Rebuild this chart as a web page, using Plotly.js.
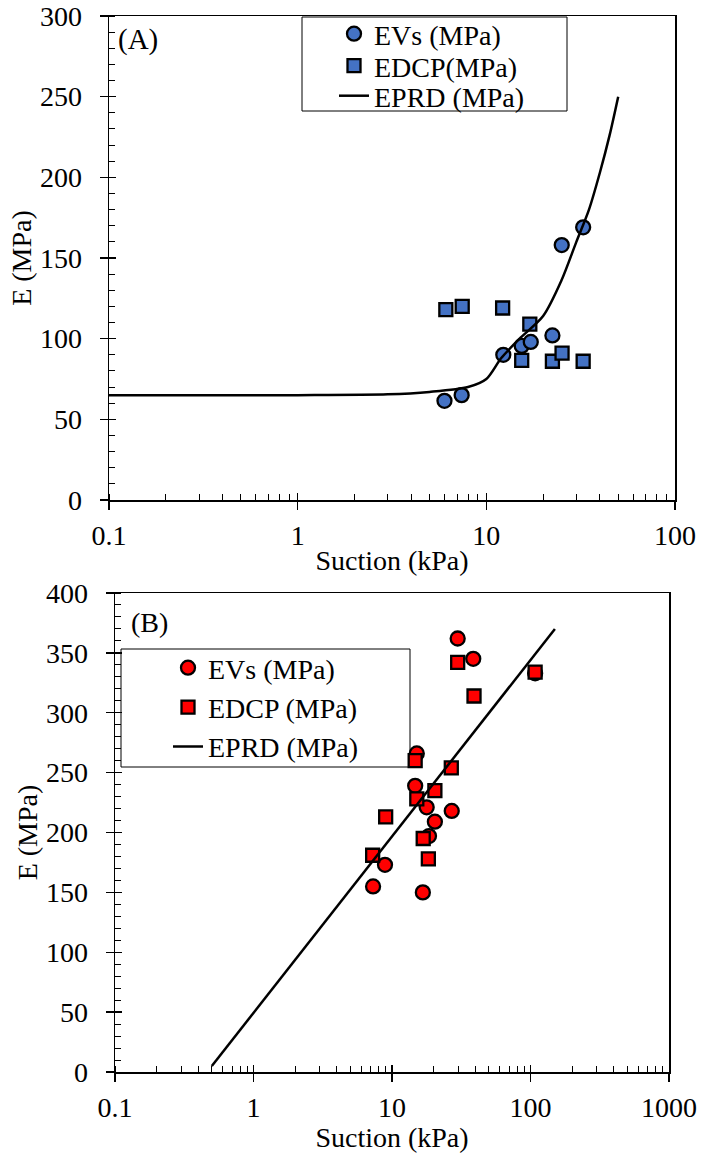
<!DOCTYPE html>
<html>
<head>
<meta charset="utf-8">
<script src="https://cdn.plot.ly/plotly-3.0.1.min.js"></script>
<style>html,body{margin:0;padding:0;background:#fff;}#chart{width:702px;height:1153px;}</style>
</head>
<body>
<div id="chart"></div>
<script>
// ---- Panel A data ----
const aEvsSuction = [6.0, 7.4, 12.3, 15.4, 17.2, 22.4, 25.1, 32.6];
const aEvsE       = [61.5, 65, 90, 95.5, 98, 102, 158, 169];
const aEdcpSuction = [6.1, 7.45, 12.2, 17.0, 15.4, 22.4, 25.2, 32.6];
const aEdcpE       = [118, 120, 119, 109, 86.5, 86, 91, 86];
const aPrdSuction = [0.1, 1, 3, 5, 8, 10, 12, 15, 20, 25, 30, 35, 40, 45, 50];
const aPrdE       = [65, 65, 65.5, 67, 70, 75, 88, 100, 114, 136, 160, 180, 203, 226, 250];
// ---- Panel B data ----
const bEvsSuction = [29.8, 38.6, 108, 15.1, 14.7, 17.8, 27.0, 20.4, 18.5, 8.9, 7.3, 16.7];
const bEvsE       = [362, 345, 333, 266, 239, 221, 218, 209, 197, 173, 155, 150];
const bEdcpSuction = [29.8, 108, 39.1, 14.7, 26.8, 20.4, 15.1, 9.0, 16.8, 7.25, 18.3];
const bEdcpE       = [342, 334, 314, 260, 254, 235, 228, 213, 195, 181, 178];
const bPrdSuction = [0.5, 150];
const bPrdE       = [5, 370];

const serif = "'Liberation Serif', 'Times New Roman', Times, serif";
const blue = '#4472C4', red = '#FF0000';
const W = 702, H = 1153;

const traces = [
  {x: aEvsSuction, y: aEvsE, name: 'EVs (MPa)', mode: 'markers', type: 'scatter', xaxis: 'x', yaxis: 'y', legend: 'legend',
   marker: {symbol: 'circle', size: 14, color: blue, line: {color: '#000', width: 2.3}}},
  {x: aEdcpSuction, y: aEdcpE, name: 'EDCP(MPa)', mode: 'markers', type: 'scatter', xaxis: 'x', yaxis: 'y', legend: 'legend3',
   marker: {symbol: 'square', size: 13, color: blue, line: {color: '#000', width: 2.3}}},
  {x: aPrdSuction, y: aPrdE, name: 'EPRD (MPa)', mode: 'lines', type: 'scatter', xaxis: 'x', yaxis: 'y', legend: 'legend4',
   line: {color: '#000', width: 2.5, shape: 'spline', smoothing: 0.8}},
  {x: bEvsSuction, y: bEvsE, name: 'EVs (MPa)', mode: 'markers', type: 'scatter', xaxis: 'x2', yaxis: 'y2', legend: 'legend2',
   marker: {symbol: 'circle', size: 14, color: red, line: {color: '#000', width: 2.3}}},
  {x: bEdcpSuction, y: bEdcpE, name: 'EDCP (MPa)', mode: 'markers', type: 'scatter', xaxis: 'x2', yaxis: 'y2', legend: 'legend2',
   marker: {symbol: 'square', size: 13, color: red, line: {color: '#000', width: 2.3}}},
  {x: bPrdSuction, y: bPrdE, name: 'EPRD (MPa)', mode: 'lines', type: 'scatter', xaxis: 'x2', yaxis: 'y2', legend: 'legend2',
   line: {color: '#000', width: 2.5}},
  // empty traces that only carry the inner halves of the crossing major ticks
  {x: [], y: [], xaxis: 'x3', yaxis: 'y3', showlegend: false, mode: 'markers', type: 'scatter'},
  {x: [], y: [], xaxis: 'x4', yaxis: 'y4', showlegend: false, mode: 'markers', type: 'scatter'}
];

const tickFont = {family: serif, size: 28, color: '#000'};
const titleFont = {family: serif, size: 28, color: '#000'};

function xax(domain, anchor, range) {
  return {
    type: 'log', domain: domain, anchor: anchor, range: range,
    showline: true, linecolor: '#000', linewidth: 1.5, mirror: true,
    showgrid: false, zeroline: false,
    ticks: 'outside', ticklen: 8, tickwidth: 1.3, tickcolor: '#000', dtick: 1,
    minor: {ticks: 'inside', ticklen: 6, tickwidth: 1, tickcolor: '#000', dtick: 'D1', showgrid: false},
    tickfont: tickFont, ticklabelstandoff: 2,
    title: {text: 'Suction (kPa)', font: titleFont, standoff: 0},
    automargin: false
  };
}
function yax(domain, anchor, range, dtick) {
  return {
    domain: domain, anchor: anchor, range: range,
    showline: true, linecolor: '#000', linewidth: 1.5, mirror: true,
    showgrid: false, zeroline: false,
    ticks: 'outside', ticklen: 8, tickwidth: 1.3, tickcolor: '#000', dtick: dtick,
    minor: {ticks: 'inside', ticklen: 6, tickwidth: 1, tickcolor: '#000', dtick: 10, showgrid: false},
    tickfont: tickFont, ticklabelstandoff: 12,
    title: {text: 'E (MPa)', font: titleFont, standoff: 0},
    automargin: false
  };
}
function innerX(domain, anchor, range, over) {
  return {type: 'log', domain: domain, anchor: anchor, range: range, overlaying: over,
    showline: false, showgrid: false, zeroline: false, showticklabels: false,
    ticks: 'inside', ticklen: 7, tickwidth: 1.3, tickcolor: '#000', dtick: 1};
}
function innerY(domain, anchor, range, over, dtick) {
  return {domain: domain, anchor: anchor, range: range, overlaying: over,
    showline: false, showgrid: false, zeroline: false, showticklabels: false,
    ticks: 'inside', ticklen: 7, tickwidth: 1.3, tickcolor: '#000', dtick: dtick};
}
function oneLegend(left, centerY, size) {
  return {x: left / W, y: 1 - centerY / H, xanchor: 'left', yanchor: 'middle',
    borderwidth: 0, bgcolor: 'rgba(0,0,0,0)',
    font: {family: serif, size: size, color: '#000'}, tracegroupgap: 0, itemwidth: 30};
}

const dAx = [109/W, 675/W], dAy = [653/H, 1137/H];
const dBx = [115/W, 669/W], dBy = [81/H, 560/H];

const layout = {
  width: W, height: H,
  margin: {l: 0, r: 0, t: 0, b: 0},
  paper_bgcolor: '#fff', plot_bgcolor: 'rgba(0,0,0,0)',
  font: {family: serif, color: '#000'},
  xaxis: xax(dAx, 'y', [-1, 2]),
  yaxis: yax(dAy, 'x', [0, 300], 50),
  xaxis2: xax(dBx, 'y2', [-1, 3]),
  yaxis2: yax(dBy, 'x2', [0, 400], 50),
  xaxis3: innerX(dAx, 'y3', [-1, 2], 'x'),
  yaxis3: innerY(dAy, 'x3', [0, 300], 'y', 50),
  xaxis4: innerX(dBx, 'y4', [-1, 3], 'x2'),
  yaxis4: innerY(dBy, 'x4', [0, 400], 'y2', 50),
  legend: oneLegend(334, 34, 28),
  legend3: oneLegend(334, 66, 28),
  legend4: oneLegend(334, 96, 28),
  legend2: {x: 168/W, y: 1 - 643/H, xanchor: 'left', yanchor: 'top',
    borderwidth: 0, bgcolor: 'rgba(0,0,0,0)',
    font: {family: serif, size: 28, color: '#000'}, tracegroupgap: 0, itemwidth: 30},
  showlegend: true,
  shapes: [
    {type: 'rect', xref: 'paper', yref: 'paper', x0: 302/W, x1: 567/W, y0: 1 - 111/H, y1: 1 - 17/H,
     line: {color: '#000', width: 1}, fillcolor: 'rgba(0,0,0,0)', layer: 'below'},
    {type: 'rect', xref: 'paper', yref: 'paper', x0: 121/W, x1: 410/W, y0: 1 - 767/H, y1: 1 - 649/H,
     line: {color: '#000', width: 1}, fillcolor: 'rgba(0,0,0,0)', layer: 'below'}
  ],
  annotations: [
    {xref: 'x domain', yref: 'y domain', x: 0.012, y: 0.99, xanchor: 'left', yanchor: 'top', text: '(A)', showarrow: false,
     font: {family: serif, size: 29, color: '#000'}},
    {xref: 'x2 domain', yref: 'y2 domain', x: 0.025, y: 0.975, xanchor: 'left', yanchor: 'top', text: '(B)', showarrow: false,
     font: {family: serif, size: 28, color: '#000'}}
  ]
};

Plotly.newPlot('chart', traces, layout, {staticPlot: true, displayModeBar: false});
</script>
</body>
</html>
